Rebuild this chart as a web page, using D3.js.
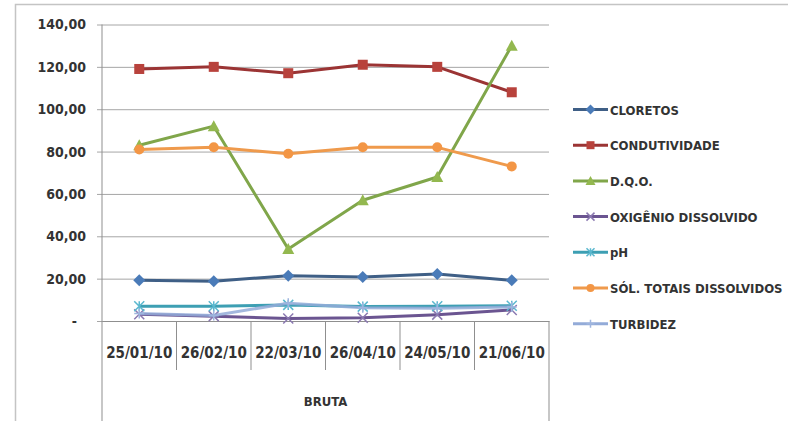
<!DOCTYPE html>
<html>
<head>
<meta charset="utf-8">
<script src="https://cdn.jsdelivr.net/npm/d3@7"></script>
<style>
  html, body { margin: 0; padding: 0; background: #ffffff; }
  svg { display: block; }
  text { font-family: "DejaVu Sans Condensed", "Liberation Sans Narrow", "DejaVu Sans", sans-serif; fill: #333333; font-weight: bold; }
</style>
</head>
<body>
<svg id="chart" width="788" height="421"></svg>
<script>
// ---- data ----
const categories = ["25/01/10", "26/02/10", "22/03/10", "26/04/10", "24/05/10", "21/06/10"];
const groupLabel = "BRUTA";
const seriesNames = ["CLORETOS", "CONDUTIVIDADE", "D.Q.O.", "OXIGÊNIO DISSOLVIDO", "pH", "SÓL. TOTAIS DISSOLVIDOS", "TURBIDEZ"];
const cloretos = [19.2, 18.8, 21.4, 20.8, 22.2, 19.2];
const condutividade = [119, 120, 117, 121, 120, 108];
const dqo = [83, 92, 34, 57, 68, 130];
const oxigenio = [3.2, 2.3, 1.2, 1.5, 3.0, 5.2];
const ph = [7.0, 7.0, 7.6, 6.8, 7.0, 7.2];
const solTotais = [81, 82, 79, 82, 82, 73];
const turbidez = [3.5, 2.6, 8.4, 6.2, 6.0, 6.6];
const yTicks = [0, 20, 40, 60, 80, 100, 120, 140];

// ---- styles ----
const lineColors = ["#3f5f86", "#9b3434", "#80a64a", "#6b5591", "#3d9fb3", "#ef9a4c", "#93abd8"];
const markerColors = ["#4a7bb8", "#b8423c", "#93b84f", "#8a78b0", "#5bb8cf", "#f39645", "#9fb5de"];
const markerTypes = ["diamond", "square", "triangle", "x", "star", "circle", "plus"];
const seriesValues = [cloretos, condutividade, dqo, oxigenio, ph, solTotais, turbidez];

(function () {
const svg = d3.select("#chart");
const pLeft = 102, pRight = 549, pTop = 24.5, pBottom = 321;

// outer chart border
svg.append("path").attr("d", "M15.5,421 L15.5,4.5 L788,4.5")
  .attr("fill", "none").attr("stroke", "#c4c4c4").attr("stroke-width", 1.5);

const x = d3.scaleBand().domain(categories).range([pLeft, pRight]).padding(0);
const y = d3.scaleLinear().domain([0, 140]).range([pBottom, pTop]);

// y axis with gridlines
const locale = d3.formatLocale({decimal: ",", thousands: ".", grouping: [3], currency: ["", ""]});
const fmt = locale.format(".2f");
const yAxis = d3.axisLeft(y).tickValues(yTicks)
  .tickSize(-(pRight - pLeft + 5)).tickPadding(11)
  .tickFormat(d => d === 0 ? "-" : fmt(d));
const gy = svg.append("g").attr("transform", `translate(${pLeft - 5},0)`).call(yAxis);
gy.select(".domain").remove();
gy.selectAll(".tick line").attr("stroke", "#a6a6a6").attr("stroke-width", 1);
gy.selectAll(".tick text").attr("font-size", 14).attr("fill", "#333333")
  .style("font-family", '"DejaVu Sans Condensed", "DejaVu Sans", sans-serif')
  .style("font-weight", "bold");
gy.selectAll(".tick").filter(d => d === 0).select("text").attr("dx", -9);

// y axis line
svg.append("line").attr("x1", pLeft).attr("x2", pLeft).attr("y1", y(140)).attr("y2", pBottom)
  .attr("stroke", "#8f8f8f").attr("stroke-width", 1);

// category axis
const xAxis = d3.axisBottom(x).tickSize(0).tickPadding(0);
const gx = svg.append("g").attr("transform", `translate(0,${pBottom})`).call(xAxis);
gx.select(".domain").attr("stroke", "#8f8f8f");
gx.selectAll(".tick text").attr("font-size", 15).attr("dy", 0).attr("y", 37)
  .attr("fill", "#333333")
  .style("font-family", '"DejaVu Sans Condensed", "DejaVu Sans", sans-serif')
  .style("font-weight", "bold");

// category separators
const bounds = categories.map(c => x(c)).concat([x.range()[1]]);
svg.append("g").selectAll("line").data(bounds).join("line")
  .attr("x1", d => d).attr("x2", d => d)
  .attr("y1", pBottom)
  .attr("y2", (d, i) => (i === 0 || i === bounds.length - 1) ? 421 : 370)
  .attr("stroke", "#8f8f8f").attr("stroke-width", 1);

// group label
svg.append("text").attr("x", (pLeft + pRight) / 2).attr("y", 406)
  .attr("text-anchor", "middle").attr("font-size", 13).text(groupLabel);

// markers
function marker(g, type, color, size) {
  const s = size / 2;
  if (type === "diamond") {
    g.append("path").attr("d", `M0,${-s - 1}L${s + 1},0L0,${s + 1}L${-s - 1},0Z`).attr("fill", color);
  } else if (type === "square") {
    g.append("rect").attr("x", -s).attr("y", -s).attr("width", size).attr("height", size).attr("fill", color);
  } else if (type === "triangle") {
    g.append("path").attr("d", `M0,${-s - 1}L${s + 1},${s}L${-s - 1},${s}Z`).attr("fill", color);
  } else if (type === "circle") {
    g.append("circle").attr("r", s).attr("fill", color);
  } else if (type === "x") {
    g.append("path").attr("d", `M${-s},${-s}L${s},${s}M${-s},${s}L${s},${-s}`).attr("stroke", color).attr("stroke-width", 1.5);
  } else if (type === "star") {
    g.append("path").attr("d", `M${-s},${-s}L${s},${s}M${-s},${s}L${s},${-s}M0,${-s}L0,${s}`).attr("stroke", color).attr("stroke-width", 1.5);
  } else if (type === "plus") {
    g.append("path").attr("d", `M${-s},0L${s},0M0,${-s}L0,${s}`).attr("stroke", color).attr("stroke-width", 1.5);
  }
}

const line = d3.line().x((d, i) => x(categories[i]) + x.bandwidth() / 2).y(d => y(d));
seriesValues.forEach((vals, k) => {
  const g = svg.append("g");
  g.append("path").datum(vals).attr("d", line)
    .attr("fill", "none").attr("stroke", lineColors[k]).attr("stroke-width", 3)
    .attr("stroke-linejoin", "round").attr("opacity", k === 6 ? 0.85 : 1);
  vals.forEach((v, i) => {
    const mg = g.append("g").attr("transform", `translate(${x(categories[i]) + x.bandwidth() / 2},${y(v)})`);
    marker(mg, markerTypes[k], markerColors[k], 10);
  });
});

// legend
const legY0 = 109.5, legStep = 35.7, legX1 = 573, legX2 = 608;
seriesNames.forEach((name, k) => {
  const ly = legY0 + k * legStep;
  const g = svg.append("g");
  g.append("line").attr("x1", legX1).attr("x2", legX2).attr("y1", ly).attr("y2", ly)
    .attr("stroke", lineColors[k]).attr("stroke-width", 3);
  const mg = g.append("g").attr("transform", `translate(${(legX1 + legX2) / 2},${ly})`);
  marker(mg, markerTypes[k], markerColors[k], 8);
  g.append("text").attr("x", legX2 + 2).attr("y", ly + 5).attr("font-size", 13)
    .attr("fill", "#262626").text(name);
});
})();
</script>
</body>
</html>
